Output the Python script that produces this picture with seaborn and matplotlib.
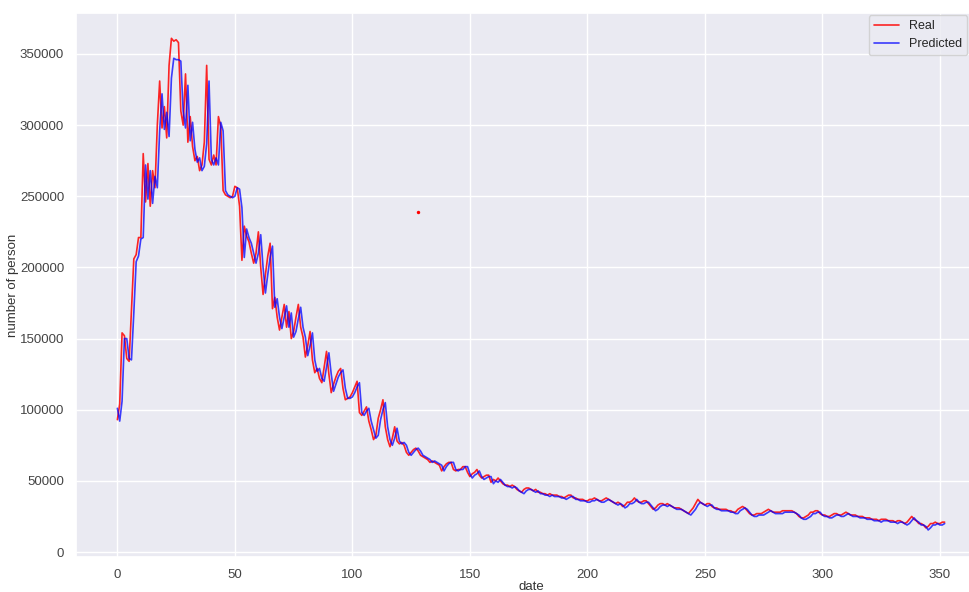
import numpy as np
import pandas as pd
import matplotlib
matplotlib.use("Agg")
import matplotlib.pyplot as plt
import seaborn as sns

# values in thousands of persons, one per day (day 0 .. 352)
real_k = [
    93, 104, 154, 152, 136, 134, 170, 206, 209, 221,
    221, 280, 246, 273, 243, 268, 256, 300, 331, 298,
    313, 291, 342, 361, 359, 360, 358, 310, 300, 336,
    288, 306, 285, 275, 278, 268, 272, 288, 342, 276,
    272, 279, 272, 306, 299, 254, 251, 250, 249, 250,
    257, 256, 243, 205, 229, 222, 218, 210, 203, 210,
    225, 200, 181, 195, 208, 217, 171, 179, 165, 156,
    165, 174, 158, 169, 150, 155, 165, 174, 158, 151,
    137, 145, 155, 135, 126, 129, 122, 119, 130, 141,
    125, 112, 118, 123, 127, 129, 115, 107, 108, 109,
    112, 116, 120, 98, 96, 99, 102, 92, 86, 79,
    82, 94, 100, 107, 88, 79, 74, 80, 88, 78,
    76, 77, 75, 70, 68, 70, 72, 73, 71, 68,
    67, 66, 65, 63, 64, 63, 62, 61, 57, 60,
    62, 63, 63, 58, 57, 58, 58, 60, 60, 56,
    53, 55, 56, 58, 54, 52, 53, 54, 54, 49,
    51, 50, 52, 50, 48, 47, 47, 46, 47, 46,
    44, 43, 42, 44, 45, 45, 44, 43, 44, 42,
    42, 41, 41, 40, 41, 40, 40, 40, 39, 39,
    38, 39, 40, 40, 38, 38, 37, 37, 37, 36,
    36, 37, 37, 38, 37, 36, 36, 37, 38, 37,
    36, 35, 34, 35, 34, 32, 33, 35, 35, 36,
    38, 36, 35, 35, 36, 36, 34, 32, 30, 31,
    33, 34, 34, 33, 34, 33, 32, 31, 31, 31,
    30, 29, 28, 27, 29, 31, 34, 37, 35, 34,
    33, 34, 34, 32, 31, 31, 30, 30, 30, 30,
    29, 29, 28, 28, 30, 31, 32, 31, 29, 27,
    26, 26, 27, 27, 27, 28, 29, 30, 29, 28,
    28, 28, 28, 29, 29, 29, 29, 29, 28, 27,
    25, 24, 24, 25, 26, 28, 28, 29, 29, 27,
    26, 26, 25, 25, 26, 27, 27, 26, 26, 27,
    28, 27, 26, 26, 26, 25, 25, 25, 24, 24,
    24, 23, 23, 23, 22, 23, 23, 23, 22, 22,
    22, 21, 22, 22, 21, 20, 21, 23, 25, 23,
    22, 20, 20, 19, 17, 18, 20, 20, 21, 20,
    20, 21, 21,
]

predicted_k = [
    101, 92, 106, 150, 150, 136, 135, 168, 204, 208,
    220, 221, 272, 248, 268, 245, 264, 256, 296, 322,
    297, 309, 292, 333, 347, 346, 346, 345, 310, 298,
    328, 289, 302, 283, 274, 277, 268, 271, 287, 331,
    276, 272, 277, 272, 302, 296, 254, 251, 250, 249,
    250, 256, 255, 242, 207, 227, 221, 217, 210, 203,
    210, 223, 200, 182, 195, 207, 215, 172, 178, 165,
    157, 165, 173, 158, 168, 151, 155, 164, 172, 158,
    151, 138, 145, 154, 135, 127, 129, 122, 120, 130,
    140, 125, 113, 118, 123, 126, 128, 115, 108, 108,
    109, 112, 116, 119, 98, 96, 99, 101, 92, 86,
    80, 82, 93, 100, 105, 88, 79, 75, 80, 87,
    78, 76, 77, 75, 70, 68, 70, 72, 73, 71,
    68, 67, 66, 65, 63, 64, 63, 62, 61, 57,
    60, 62, 63, 63, 58, 57, 58, 58, 60, 60,
    55, 52, 54, 55, 57, 53, 51, 52, 53, 53,
    48, 50, 49, 51, 49, 47, 46, 46, 45, 46,
    45, 43, 42, 41, 43, 44, 44, 43, 42, 43,
    41, 41, 40, 40, 39, 40, 39, 39, 39, 38,
    38, 37, 38, 39, 39, 37, 37, 36, 36, 36,
    35, 35, 36, 36, 37, 36, 35, 35, 36, 37,
    36, 35, 34, 33, 34, 33, 31, 32, 34, 34,
    35, 37, 35, 34, 34, 35, 35, 33, 31, 29,
    30, 32, 33, 33, 32, 33, 32, 31, 30, 30,
    30, 29, 28, 27, 26, 28, 30, 33, 35, 34,
    33, 32, 33, 33, 31, 30, 30, 29, 29, 29,
    29, 28, 28, 27, 27, 29, 30, 31, 30, 28,
    26, 25, 25, 26, 26, 26, 27, 28, 29, 28,
    27, 27, 27, 27, 28, 28, 28, 28, 28, 27,
    26, 24, 23, 23, 24, 25, 27, 27, 28, 28,
    26, 25, 25, 24, 24, 25, 26, 26, 25, 25,
    26, 27, 26, 25, 25, 25, 24, 24, 24, 23,
    23, 23, 22, 22, 22, 21, 22, 22, 22, 21,
    21, 21, 20, 21, 21, 20, 19, 20, 22, 24,
    22, 21, 19, 19, 18, 15.5, 17, 19, 19, 20,
    19, 19, 20,
]

stray_day = [128]
stray_value_k = [239]

days = np.arange(len(real_k))
df = pd.DataFrame({
    "date": days,
    "Real": np.array(real_k) * 1000,
    "Predicted": np.array(predicted_k) * 1000,
})

sns.set_theme(style="darkgrid")
plt.rcParams["font.family"] = ["Liberation Sans", "DejaVu Sans"]

W, H = 969, 592
fig = plt.figure(figsize=(W / 100, H / 100), dpi=100)
ax = fig.add_axes([76 / W, 1 - 557 / H, (986 - 76) / W, (557 - 13) / H])

sns.lineplot(data=df, x="date", y="Real", color="red", label="Real",
             linewidth=1.2, alpha=0.85, ax=ax)
sns.lineplot(data=df, x="date", y="Predicted", color="blue", label="Predicted",
             linewidth=1.2, alpha=0.75, ax=ax)
sns.scatterplot(x=stray_day, y=np.array(stray_value_k) * 1000, color="red",
                s=6, linewidth=0, ax=ax, legend=False)

ax.set_xlim(-17.6, 369.6)
ax.set_ylim(-3500, 378800)
ax.set_xlabel("date", fontsize=9.5, labelpad=0.5, color="#333333")
ax.set_ylabel("number of person", fontsize=9.5, labelpad=0.5, color="#333333")
ax.tick_params(labelsize=9.5, colors="#444444", pad=2.5)
ax.legend(loc="upper right", fontsize=9, borderaxespad=0.0,
          bbox_to_anchor=(967 / W, 1 - 15 / H), bbox_transform=fig.transFigure)

fig.savefig("out.png", dpi=100)
